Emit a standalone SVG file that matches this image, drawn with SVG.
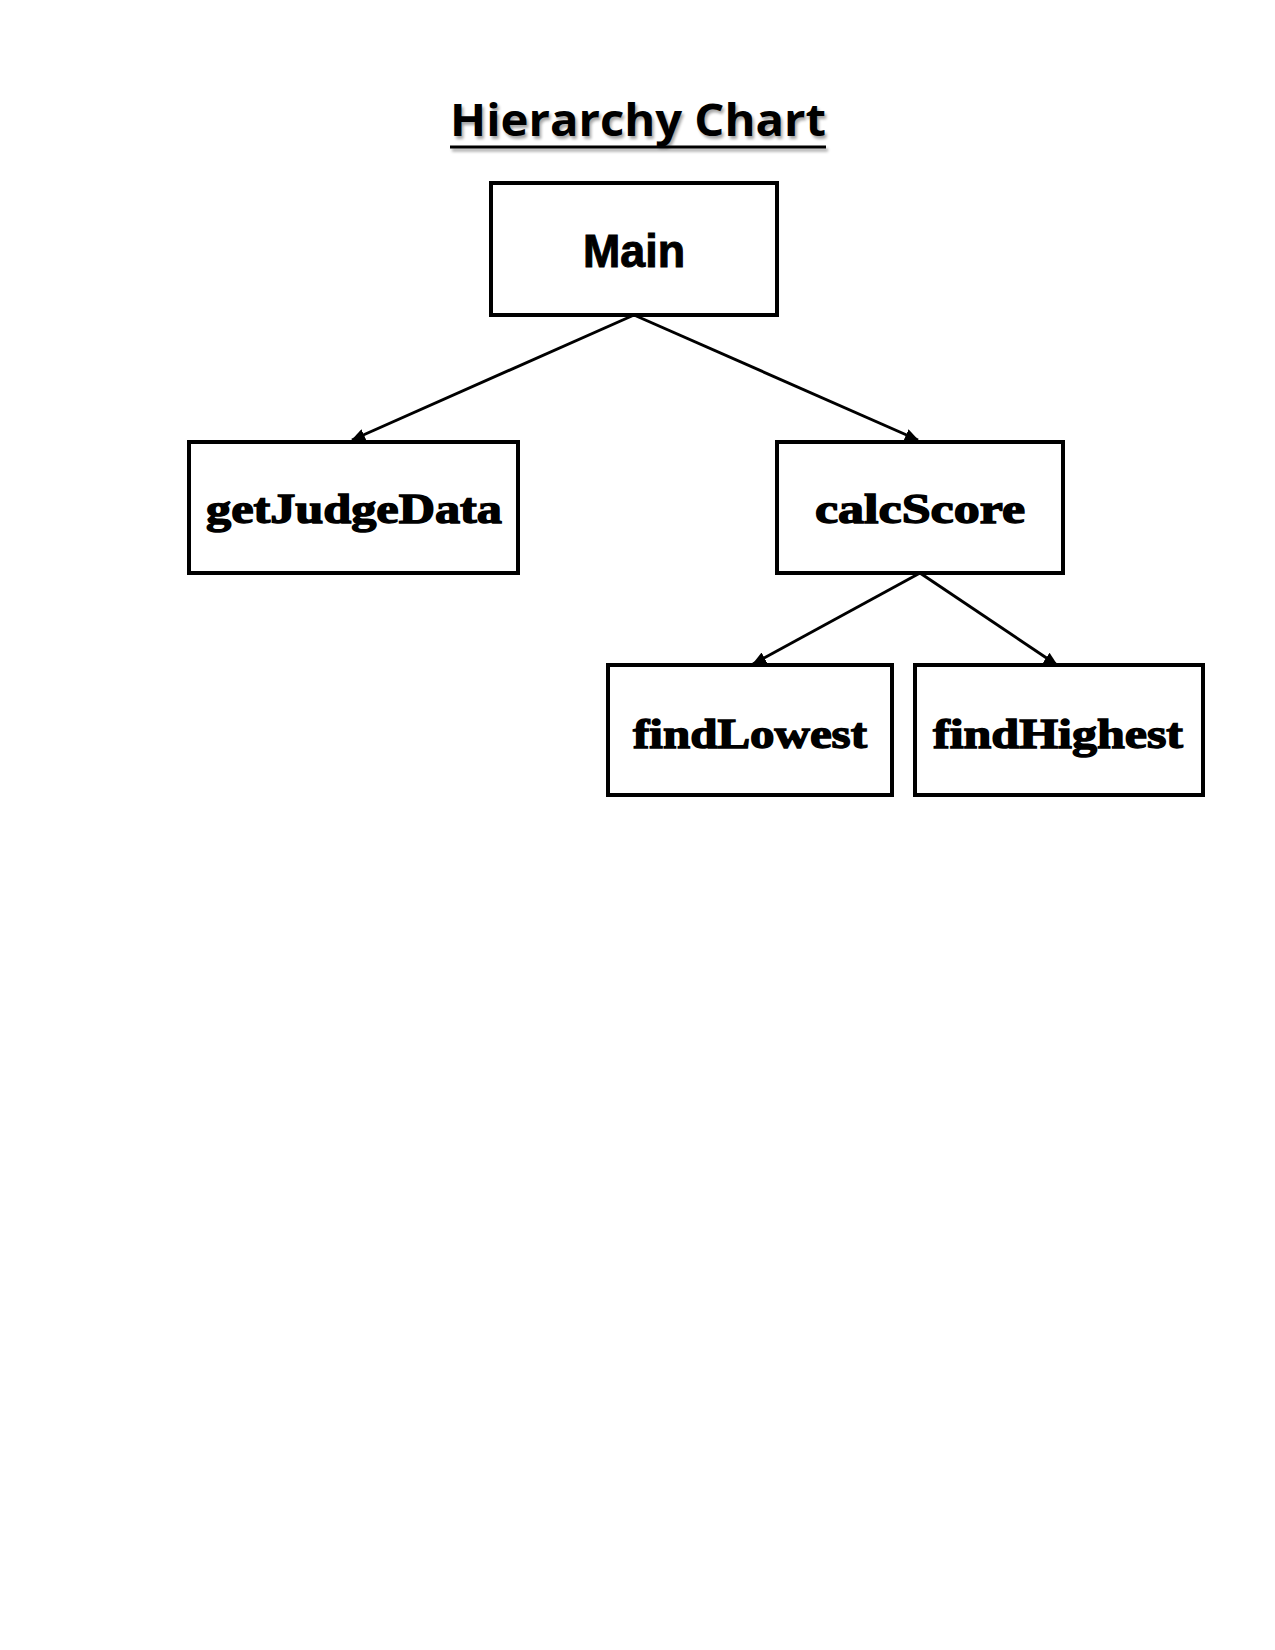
<svg xmlns="http://www.w3.org/2000/svg" width="1275" height="1650" viewBox="0 0 1275 1650">
  <style>
    .box { fill: #ffffff; stroke: #000000; stroke-width: 4; }
    .lbl { font-family: "Liberation Serif", "DejaVu Serif", serif; font-weight: bold; font-size: 42px; fill: #000000; stroke: #000000; stroke-width: 1.4; text-anchor: middle; }
    .main { font-family: "Liberation Sans", Arial, sans-serif; font-weight: bold; font-size: 46px; fill: #000000; stroke: #000000; stroke-width: 1; text-anchor: middle; }
    .title { font-family: "Open Sans", "Liberation Sans", sans-serif; font-weight: bold; font-size: 45px; fill: #000000; }
    .conn { stroke: #000000; stroke-width: 3; fill: none; }
  </style>
  <defs>
    <marker id="arrow" markerUnits="userSpaceOnUse" markerWidth="14" markerHeight="12" refX="13" refY="6" orient="auto">
      <path d="M0,0 L14,6 L0,12 Z" fill="#000000"/>
    </marker>
    <filter id="shadow" x="-5%" y="-20%" width="110%" height="150%">
      <feGaussianBlur stdDeviation="1.5"/>
    </filter>
  </defs>
  <rect x="0" y="0" width="1275" height="1650" fill="#ffffff"/>

  <g id="title">
    <g opacity="0.35" filter="url(#shadow)" transform="translate(2,3)">
      <text class="title" x="450" y="136" textLength="376" lengthAdjust="spacingAndGlyphs">Hierarchy Chart</text>
      <rect x="450" y="145.5" width="376" height="3" fill="#000000"/>
    </g>
    <text class="title" x="450" y="136" textLength="376" lengthAdjust="spacingAndGlyphs">Hierarchy Chart</text>
    <rect x="450" y="145.5" width="376" height="3" fill="#000000"/>
  </g>

  <g id="connectors">
    <line class="conn" x1="634" y1="315" x2="352" y2="440" marker-end="url(#arrow)"/>
    <line class="conn" x1="634" y1="315" x2="918" y2="440" marker-end="url(#arrow)"/>
    <line class="conn" x1="920" y1="573" x2="753" y2="664" marker-end="url(#arrow)"/>
    <line class="conn" x1="920" y1="573" x2="1057" y2="665" marker-end="url(#arrow)"/>
  </g>

  <g id="node-main">
    <rect class="box" x="491" y="183" width="286" height="132"/>
    <text class="main" x="634" y="267" textLength="102" lengthAdjust="spacingAndGlyphs">Main</text>
  </g>

  <g id="node-getJudgeData">
    <rect class="box" x="189" y="442" width="329" height="131"/>
    <text class="lbl" x="354" y="523" textLength="296" lengthAdjust="spacingAndGlyphs">getJudgeData</text>
  </g>

  <g id="node-calcScore">
    <rect class="box" x="777" y="442" width="286" height="131"/>
    <text class="lbl" x="920" y="523" textLength="210" lengthAdjust="spacingAndGlyphs">calcScore</text>
  </g>

  <g id="node-findLowest">
    <rect class="box" x="608" y="665" width="284" height="130"/>
    <text class="lbl" x="750" y="748" textLength="234" lengthAdjust="spacingAndGlyphs">findLowest</text>
  </g>

  <g id="node-findHighest">
    <rect class="box" x="915" y="665" width="288" height="130"/>
    <text class="lbl" x="1058" y="748" textLength="250" lengthAdjust="spacingAndGlyphs">findHighest</text>
  </g>
</svg>
